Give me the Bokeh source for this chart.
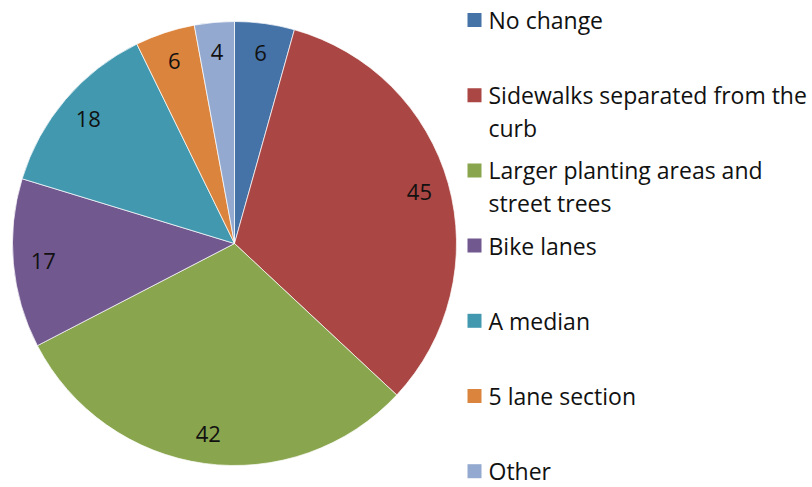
import math
from bokeh.plotting import figure
from bokeh.models import Range1d, ColumnDataSource
from bokeh.core.properties import value
from bokeh.embed import file_html
from bokeh.resources import INLINE

categories = ["No change", "Sidewalks separated from the\ncurb", "Larger planting areas and\nstreet trees",
              "Bike lanes", "A median", "5 lane section", "Other"]
values = [6, 45, 42, 17, 18, 6, 4]
colors = ["#4572A7", "#AA4643", "#89A54E", "#71588F", "#4198AF", "#DB843D", "#93A9CF"]

FONT = "Open Sans"
W, H = 812, 487
p = figure(width=W, height=H, output_backend="svg", toolbar_location=None,
           x_range=Range1d(0, W), y_range=Range1d(-H, 0),
           min_border=0, outline_line_color=None)
p.axis.visible = False
p.grid.visible = False
p.background_fill_color = "white"
p.border_fill_color = "white"

cx, cy, R = 234, -243, 222
total = sum(values)
starts, ends, lx, ly = [], [], [], []
acc = 0.0
for v in values:
    a0 = math.pi / 2 - 2 * math.pi * acc / total
    a1 = math.pi / 2 - 2 * math.pi * (acc + v) / total
    starts.append(a0)
    ends.append(a1)
    mid = (a0 + a1) / 2
    lx.append(cx + 0.865 * R * math.cos(mid))
    ly.append(cy + 0.865 * R * math.sin(mid))
    acc += v

src = ColumnDataSource(dict(start=starts, end=ends, color=colors, lx=lx, ly=ly,
                            txt=[str(v) for v in values]))
p.wedge(x=cx, y=cy, radius=R, start_angle="start", end_angle="end", direction="clock",
        fill_color="color", line_color="white", line_width=1, line_alpha=0.7, source=src)
p.text(x="lx", y="ly", text="txt", source=src, text_font=value(FONT), text_font_size="22px",
       text_align="center", text_baseline="middle", text_color="#111111")

# legend
sq_x, tx_x, y0, step, line_h = 474, 488, -19.5, 75.2, 33
sqx, sqy, sqc, tx, ty = [], [], [], [], []
for i, (c, col) in enumerate(zip(categories, colors)):
    yy = y0 - step * i
    sqx.append(sq_x); sqy.append(yy); sqc.append(col)
    for j, line in enumerate(c.split("\n")):
        tx.append(line); ty.append(yy - line_h * j)
p.rect(x=sqx, y=sqy, width=14, height=14, fill_color=sqc, line_color=None)
p.text(x=tx_x, y=ty, text=tx, text_font=value(FONT), text_font_size="23px",
       text_align="left", text_baseline="middle", text_color="#111111")

open("out.html", "w").write(file_html(p, INLINE))
